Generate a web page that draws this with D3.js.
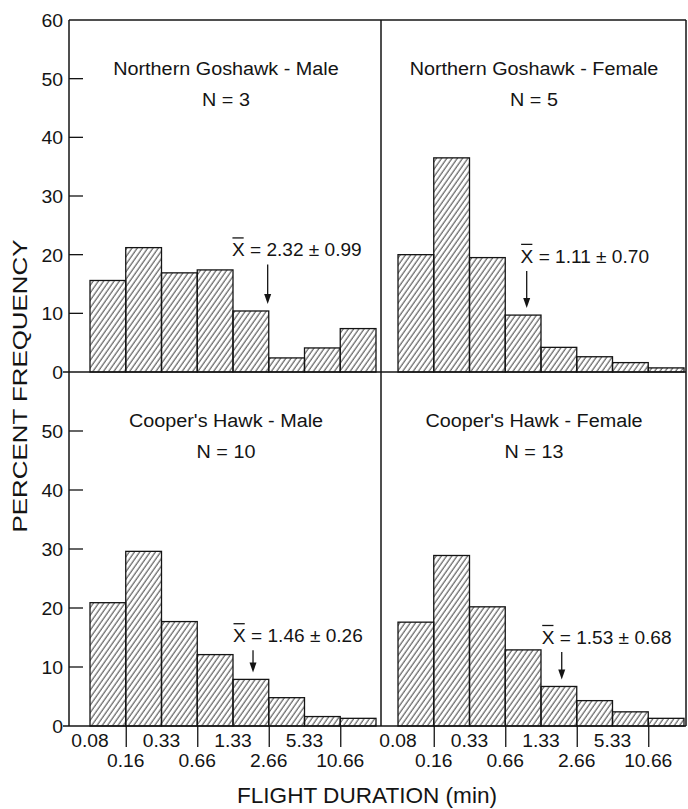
<!DOCTYPE html>
<html><head><meta charset="utf-8">
<script src="https://cdn.jsdelivr.net/npm/d3@7"></script>
<style>
body{margin:0;background:#fff}
text{font-family:"Liberation Sans",Arial,Helvetica,sans-serif;fill:#141414}
</style>
</head><body>
<svg id="c" width="688" height="809"></svg>
<script>
// ---------------- data ----------------
const binEdges = ["0.08","0.16","0.33","0.66","1.33","2.66","5.33","10.66"];
const panelTitles = ["Northern Goshawk - Male","Northern Goshawk - Female","Cooper's Hawk - Male","Cooper's Hawk - Female"];
const sampleSizes = [3, 5, 10, 13];
const ngMale   = [15.6, 21.2, 16.9, 17.4, 10.4, 2.4, 4.1, 7.4];
const ngFemale = [20.0, 36.5, 19.5, 9.7, 4.2, 2.6, 1.6, 0.7];
const chMale   = [20.9, 29.6, 17.7, 12.1, 7.9, 4.8, 1.6, 1.3];
const chFemale = [17.6, 28.9, 20.2, 12.9, 6.7, 4.3, 2.4, 1.3];
const meanLabels = ["2.32 ± 0.99", "1.11 ± 0.70", "1.46 ± 0.26", "1.53 ± 0.68"];
const meanBin    = [4.97, 3.6, 4.56, 4.58];   // arrow location along bin axis
const labelBin   = [3.97, 3.43, 4.0, 4.02];   // start of mean label along bin axis
const labelLevel = [19.7, 18.6, 14.2, 13.9];  // mean label baseline, percent units
const yTicksTop = [0, 10, 20, 30, 40, 50, 60];
const yTicksBottom = [0, 10, 20, 30, 40, 50];
const yLabel = "PERCENT FREQUENCY";
const xLabel = "FLIGHT DURATION (min)";

const series = [ngMale, ngFemale, chMale, chFemale];

// ---------------- layout ----------------
const svg = d3.select("#c");
const axisX = 69, divX = 381, rightX = 686;
const topY = 20, midY = 372, botY = 726;
const colRange = [[90, 376], [398, 684]];
const rowRange = [[midY, topY], [botY, midY]];
const ink = "#141414";

function stretch(sel, k){
  sel.each(function(){
    const L = this.getComputedTextLength();
    this.setAttribute("textLength", L * k);
    this.setAttribute("lengthAdjust", "spacingAndGlyphs");
  });
}

// hatch pattern
const defs = svg.append("defs");
defs.append("pattern")
  .attr("id", "hatch").attr("patternUnits", "userSpaceOnUse")
  .attr("width", 4.3).attr("height", 10)
  .attr("patternTransform", "rotate(35)")
  .append("line").attr("x1", 1).attr("y1", 0).attr("x2", 1).attr("y2", 10)
  .attr("stroke", "#2a2a2a").attr("stroke-width", 0.9);

const g = svg.append("g");

series.forEach((vals, p) => {
  const col = p % 2, row = Math.floor(p / 2);
  const x = d3.scaleLinear().domain([0, 8]).range(colRange[col]);
  const y = d3.scaleLinear().domain([0, 60]).range(rowRange[row]);
  const pg = g.append("g");

  // bars
  pg.selectAll("rect").data(vals).join("rect")
    .attr("x", (d, i) => x(i)).attr("width", (d, i) => x(i + 1) - x(i))
    .attr("y", d => y(d)).attr("height", d => y(0) - y(d))
    .attr("fill", "url(#hatch)").attr("stroke", ink).attr("stroke-width", 1.3);

  // titles
  const cx = (colRange[col][0] + colRange[col][1]) / 2 - 7;
  const pTop = y(60);
  pg.append("text").attr("x", cx).attr("y", pTop + 55).attr("text-anchor", "middle")
    .attr("font-size", 18).text(panelTitles[p]).call(stretch, 1.1);
  pg.append("text").attr("x", cx).attr("y", pTop + 86).attr("text-anchor", "middle")
    .attr("font-size", 18).text("N = " + sampleSizes[p]).call(stretch, 1.1);

  // mean label
  const lx = x(labelBin[p]), ly = y(labelLevel[p]);
  const mt = pg.append("text").attr("x", lx).attr("y", ly).attr("font-size", 18)
    .text("X = " + meanLabels[p]);
  stretch(mt, 1.06);
  const ext = mt.node().getExtentOfChar(0);
  pg.append("line").attr("x1", ext.x + 0.5).attr("x2", ext.x + ext.width - 1)
    .attr("y1", ly - 18.5).attr("y2", ly - 18.5).attr("stroke", ink).attr("stroke-width", 1.3);

  // arrow
  const ax = x(meanBin[p]);
  const barTop = y(vals[Math.floor(meanBin[p])]);
  const a0 = ly + 8, a1 = barTop - 7;
  pg.append("line").attr("x1", ax).attr("x2", ax).attr("y1", a0).attr("y2", a1 - 8)
    .attr("stroke", ink).attr("stroke-width", 1.3);
  pg.append("path").attr("d", `M${ax - 3.5},${a1 - 10} L${ax + 3.5},${a1 - 10} L${ax},${a1} Z`)
    .attr("fill", ink);

  // x axis ticks + labels for bottom row
  if (row === 1) {
    const ax2 = d3.axisBottom(x).tickValues([1, 3, 5, 7]).tickSize(21).tickFormat("");
    const axg = pg.append("g").attr("transform", `translate(0,${botY})`).call(ax2);
    axg.select(".domain").remove();
    axg.selectAll("line").attr("stroke", ink).attr("stroke-width", 1.3);
    pg.selectAll("text.xt").data(binEdges).join("text").attr("class", "xt")
      .attr("x", (d, i) => x(i)).attr("y", (d, i) => i % 2 === 0 ? botY + 21 : botY + 41)
      .attr("text-anchor", "middle").attr("font-size", 17.5).text(d => d)
      .call(stretch, 1.1);
  }

  // y axis (left column only)
  if (col === 0) {
    const ticks = row === 0 ? yTicksTop : yTicksBottom;
    const yAxis = d3.axisLeft(y).tickValues(ticks).tickSize(0).tickPadding(0).tickFormat(d3.format("d"));
    const yg = pg.append("g").attr("transform", `translate(${axisX},0)`).call(yAxis);
    yg.select(".domain").remove();
    yg.selectAll("text").attr("x", -6).attr("dy", "0.36em").attr("font-size", 18)
      .attr("font-family", null).attr("fill", ink).call(stretch, 1.08);
    // inward tick marks
    pg.selectAll("line.yt").data(ticks.filter(t => t > 0 && t < 60)).join("line").attr("class", "yt")
      .attr("x1", axisX).attr("x2", axisX + 14).attr("y1", d => y(d)).attr("y2", d => y(d))
      .attr("stroke", ink).attr("stroke-width", 1.3);
  }
});

// frame
const fr = g.append("g").attr("stroke", ink).attr("stroke-width", 1.5).attr("fill", "none");
fr.append("line").attr("x1", axisX).attr("x2", rightX).attr("y1", topY).attr("y2", topY);
fr.append("line").attr("x1", axisX - 6).attr("x2", rightX).attr("y1", midY).attr("y2", midY);
fr.append("line").attr("x1", axisX - 6).attr("x2", rightX).attr("y1", botY).attr("y2", botY);
fr.append("line").attr("x1", axisX).attr("x2", axisX).attr("y1", topY).attr("y2", botY);
fr.append("line").attr("x1", divX).attr("x2", divX).attr("y1", topY).attr("y2", botY);
fr.append("line").attr("x1", rightX).attr("x2", rightX).attr("y1", topY).attr("y2", botY);

// axis titles
svg.append("text").attr("transform", "translate(27,386) rotate(-90)").attr("text-anchor", "middle")
  .attr("font-size", 21).text(yLabel).attr("textLength", 293).attr("lengthAdjust", "spacingAndGlyphs");
svg.append("text").attr("x", 367).attr("y", 803).attr("text-anchor", "middle")
  .attr("font-size", 22).text(xLabel).attr("textLength", 260).attr("lengthAdjust", "spacingAndGlyphs");
</script>
</body></html>
